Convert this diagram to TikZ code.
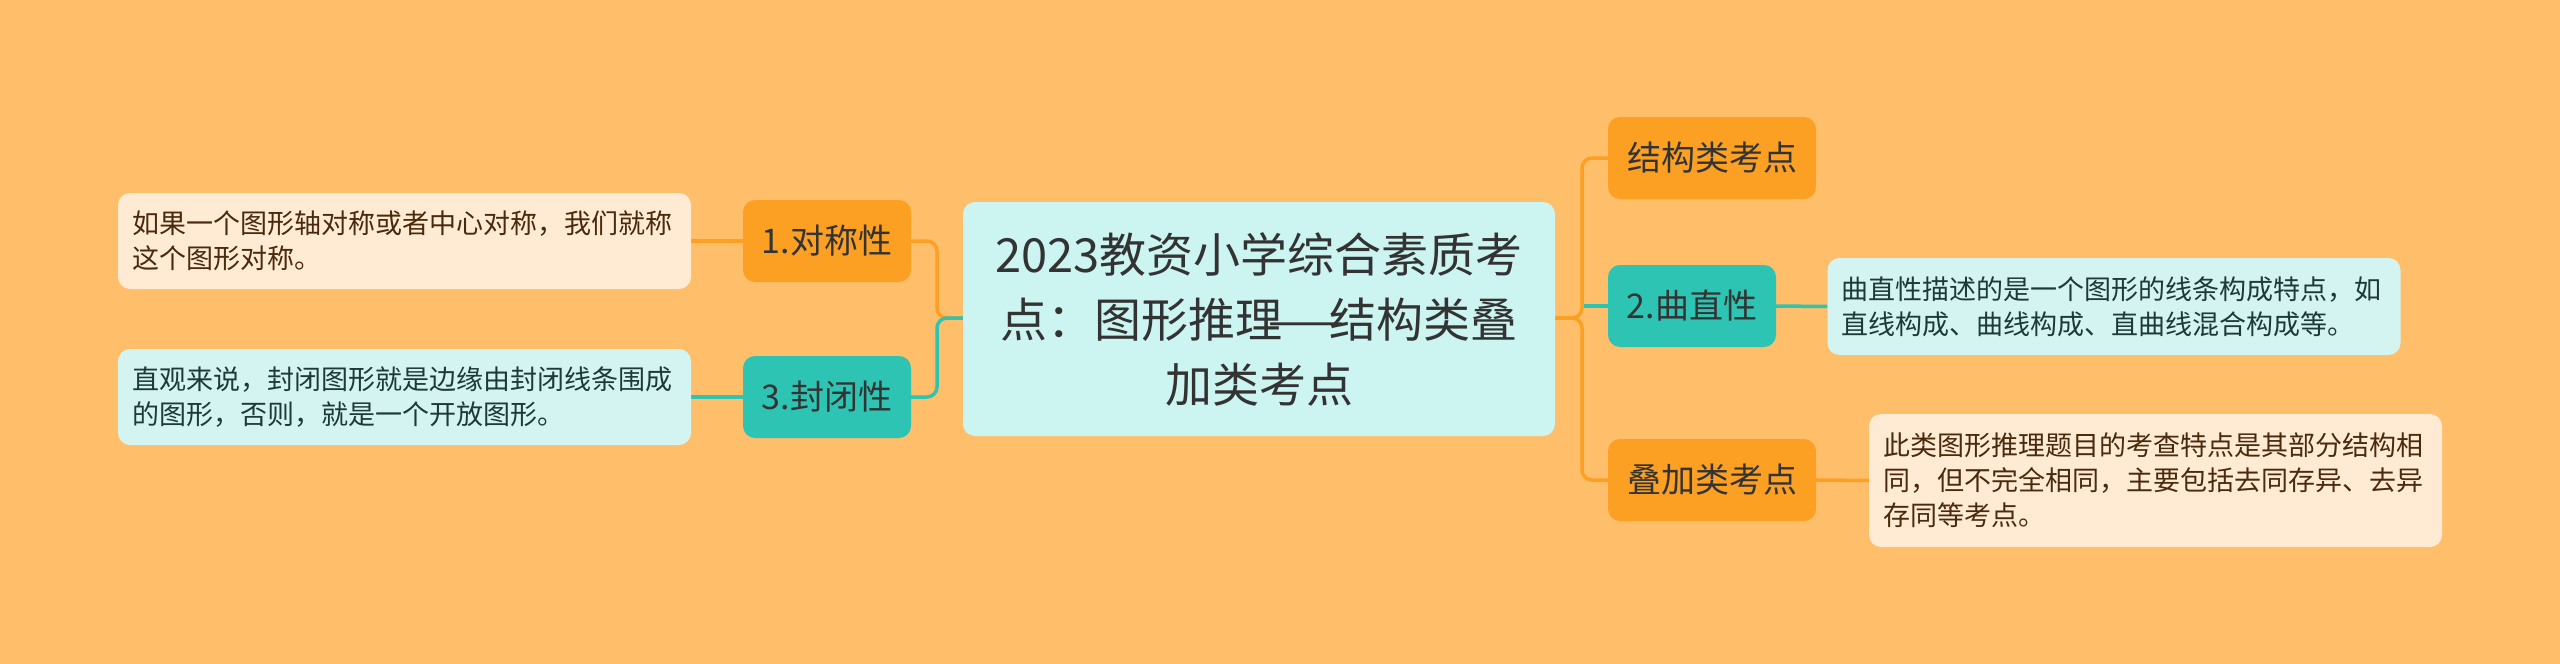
\documentclass[tikz,border=0pt]{standalone}
\usepackage{fontspec}
\setmainfont{Noto Sans CJK SC}
\newfontfamily\cjk{Noto Sans CJK SC}
\definecolor{bgc}{HTML}{FFBE6A}
\definecolor{orng}{HTML}{FCA024}
\definecolor{tealc}{HTML}{2EC4B3}
\definecolor{rootc}{HTML}{CCF4F0}
\definecolor{creamc}{HTML}{FFEBD4}
\definecolor{lteal}{HTML}{D4F4F1}
\definecolor{darktxt}{HTML}{333333}
\definecolor{browntxt}{HTML}{4A2A0C}
\definecolor{tealtxt}{HTML}{1E3A38}
\pgfdeclarelayer{back}
\pgfdeclarelayer{lines}
\pgfsetlayers{back,lines,main}
\tikzset{
  box/.style={rounded corners=12pt, inner sep=0pt, anchor=center},
  rootbox/.style={box, fill=rootc, text=darktxt, minimum width=592pt, minimum height=234pt,
    align=center, font=\cjk\fontsize{47}{65}\selectfont},
  obox/.style={box, fill=orng, text=darktxt, minimum height=82pt,
    font=\cjk\fontsize{34}{40}\selectfont},
  tbox/.style={box, fill=tealc, text=darktxt, minimum height=82pt,
    font=\cjk\fontsize{34}{40}\selectfont},
  onote/.style={box, fill=creamc, text=browntxt, minimum width=573pt, text width=545pt,
    align=left, font=\cjk\fontsize{27}{35}\selectfont},
  tnote/.style={box, fill=lteal, text=tealtxt, minimum width=573pt, text width=545pt,
    align=left, font=\cjk\fontsize{27}{35}\selectfont},
  oline/.style={draw=orng, line width=3.5pt, rounded corners=10pt},
  tline/.style={draw=tealc, line width=3.5pt, rounded corners=10pt},
}
\begin{document}
\begin{tikzpicture}[x=1pt, y=-1pt]
\begin{pgfonlayer}{back}
\fill[bgc] (0,0) rectangle (2560,664);
\end{pgfonlayer}
\useasboundingbox (0,0) rectangle (2560,664);

\node[rootbox] (root) at (1259,319) {2023教资小学综合素质考\\点：图形推理\makebox[1em]{\scalebox{1.9}[1]{—}}结构类叠\\加类考点};

\node[obox, minimum width=168pt] (n1) at (827,241) {1.对称性};
\node[tbox, minimum width=168pt] (n3) at (827,397) {3.封闭性};
\node[onote, minimum height=96pt] (d1) at (404.5,241) {如果一个图形轴对称或者中心对称，我们就称\\这个图形对称。};
\node[tnote, minimum height=96pt] (d3) at (404.5,397) {直观来说，封闭图形就是边缘由封闭线条围成\\的图形，否则，就是一个开放图形。};

\node[obox, minimum width=208pt] (s1) at (1712,158) {结构类考点};
\node[tbox, minimum width=168pt] (n2) at (1692,306) {2.曲直性};
\node[obox, minimum width=208pt] (s2) at (1712,480) {叠加类考点};
\node[tnote, minimum height=97pt] (d2) at (2114,306.5) {曲直性描述的是一个图形的线条构成特点，如\\直线构成、曲线构成、直曲线混合构成等。};
\node[onote, minimum height=133pt] (d4) at (2155.5,480.5) {此类图形推理题目的考查特点是其部分结构相\\同，但不完全相同，主要包括去同存异、去异\\存同等考点。};

\coordinate (jl) at (937,318);
\coordinate (jr) at (1582,318);

\begin{pgfonlayer}{lines}
\draw[oline] (root.west |- jl) -- (jl) |- (n1.east);
\draw[tline] (root.west |- jl) -- (jl) |- (n3.east);
\draw[oline] (d1.east) -- (n1.west);
\draw[tline] (d3.east) -- (n3.west);
\draw[tline] (jr |- n2.west) -- (n2.west);
\draw[oline] (root.east |- jr) -- (jr) |- (s1.west);
\draw[oline] (root.east |- jr) -- (jr) |- (s2.west);
\draw[tline] (n2.east) -- (d2.west);
\draw[oline] (s2.east) -- (d4.west);
\end{pgfonlayer}
\end{tikzpicture}
\end{document}
